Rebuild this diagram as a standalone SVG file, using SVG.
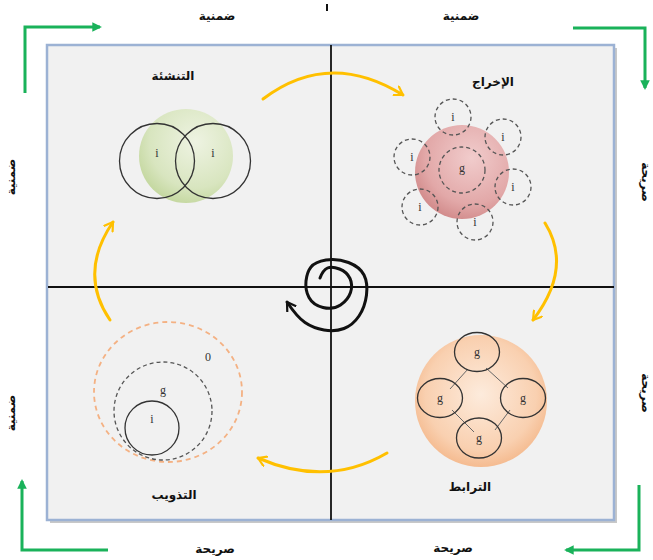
<svg xmlns="http://www.w3.org/2000/svg" width="653" height="560" viewBox="0 0 653 560">
<defs>
<style>
.lbl{font-family:"DejaVu Sans",sans-serif;font-size:12px;font-weight:bold;fill:#111;text-anchor:middle}
.sm{font-family:"Liberation Serif","DejaVu Serif",serif;font-size:12px;fill:#333;text-anchor:middle}
.grn{stroke:#1ab25a;stroke-width:3;fill:none}
.ylw{stroke:#ffc000;stroke-width:3;fill:none;stroke-linecap:round}
.dsh{fill:none;stroke:#555;stroke-width:1.3;stroke-dasharray:4 3}
.sol{fill:none;stroke:#333;stroke-width:1.3}
</style>
<marker id="ga" viewBox="0 0 10 10" refX="8" refY="5" markerWidth="3.2" markerHeight="3.2" orient="auto" markerUnits="strokeWidth">
<path d="M0,0 L10,5 L0,10 Z" fill="#1ab25a"/>
</marker>
<marker id="ya" viewBox="0 0 12 12" refX="9" refY="6" markerWidth="4" markerHeight="4" orient="auto" markerUnits="strokeWidth">
<path d="M1,1 L9,6 L1,11" fill="none" stroke="#ffc000" stroke-width="2.2" stroke-linecap="round" stroke-linejoin="round"/>
</marker>
<marker id="ka" viewBox="0 0 12 12" refX="9" refY="6" markerWidth="4" markerHeight="4" orient="auto" markerUnits="strokeWidth">
<path d="M1,1 L9,6 L1,11" fill="none" stroke="#111" stroke-width="2.2" stroke-linecap="round" stroke-linejoin="round"/>
</marker>
<radialGradient id="gG" cx="0.6" cy="0.35" r="0.7">
<stop offset="0" stop-color="#eef3e2"/>
<stop offset="0.7" stop-color="#d8e5bf"/>
<stop offset="1" stop-color="#c2d69c"/>
</radialGradient>
<radialGradient id="gP" cx="0.6" cy="0.35" r="0.7">
<stop offset="0" stop-color="#f1cccc"/>
<stop offset="0.7" stop-color="#e2a8a8"/>
<stop offset="1" stop-color="#d08888"/>
</radialGradient>
<radialGradient id="gO" cx="0.5" cy="0.45" r="0.6">
<stop offset="0" stop-color="#fdebdc"/>
<stop offset="0.7" stop-color="#f9d0b0"/>
<stop offset="1" stop-color="#f3b384"/>
</radialGradient>
</defs>

<g id="frame">
<rect x="50" y="48" width="567" height="475" fill="#c8c8c8"/>
<rect x="47" y="45" width="567" height="475" fill="#f1f1f1" stroke="#9cb2d4" stroke-width="2.5"/>
<line x1="331" y1="45" x2="331" y2="520" stroke="#111" stroke-width="1.8"/>
<line x1="48" y1="287" x2="614" y2="287" stroke="#111" stroke-width="1.8"/>
<line x1="327" y1="4" x2="327" y2="11" stroke="#111" stroke-width="2"/>
</g>

<g id="connectors">
<path class="grn" d="M25,93 V27 H100" marker-end="url(#ga)"/>
<path class="grn" d="M573,28 H645 V88" marker-end="url(#ga)"/>
<path class="grn" d="M639,485 V550 H566" marker-end="url(#ga)"/>
<path class="grn" d="M108,550 H22 V481" marker-end="url(#ga)"/>
<path class="ylw" d="M263,99 Q329,49 403,95" marker-end="url(#ya)"/>
<path class="ylw" d="M545,223 Q573,268 533,320" marker-end="url(#ya)"/>
<path class="ylw" d="M387,453 Q327,488 258,458" marker-end="url(#ya)"/>
<path class="ylw" d="M110,320 Q78,273 113,222" marker-end="url(#ya)"/>
<path d="M320,278 Q323,270 327.5,268 Q332,266 339.5,269 Q347,272 350,278.5 Q353,285 350.5,292.5 Q348,300 340.5,305 Q333,310 323,307.5 Q313,305 309,297.5 Q305,290 306,281 Q307,272 311,267 Q315,262 326,260 Q337,258 348.5,262.5 Q360,267 364,275 Q368,283 366.5,295 Q365,307 359,316 Q353,325 344,328.5 Q335,332 324,330 Q313,328 305,322.5 Q297,317 287,302" fill="none" stroke="#111" stroke-width="3" stroke-linecap="round" marker-end="url(#ka)"/>
</g>

<g id="edge-labels">
<text class="lbl" x="217" y="20">ضمنية</text>
<text class="lbl" x="461" y="20">ضمنية</text>
<text class="lbl" x="215" y="553">صريحة</text>
<text class="lbl" x="453" y="552">صريحة</text>
<text class="lbl" transform="translate(15,177) rotate(-90)">ضمنية</text>
<text class="lbl" transform="translate(15,413) rotate(-90)">ضمنية</text>
<text class="lbl" transform="translate(642,182) rotate(90)">صريحة</text>
<text class="lbl" transform="translate(642,393) rotate(90)">صريحة</text>
</g>

<g id="node-socialization">
<text class="lbl" x="173" y="80">التنشئة</text>
<circle cx="186" cy="156" r="47" fill="url(#gG)"/>
<circle class="sol" cx="157" cy="161" r="37.5" stroke-width="1.6"/>
<circle class="sol" cx="213" cy="161" r="37.5" stroke-width="1.6"/>
<text class="sm" x="157" y="157">i</text>
<text class="sm" x="213" y="157">i</text>
</g>

<g id="node-externalization">
<text class="lbl" x="493" y="86">الإخراج</text>
<circle cx="462" cy="172" r="47" fill="url(#gP)"/>
<circle class="dsh" cx="462" cy="170" r="23"/>
<text class="sm" x="462" y="172">g</text>
<circle class="dsh" cx="453" cy="117" r="18"/>
<text class="sm" x="453" y="121">i</text>
<circle class="dsh" cx="503" cy="137" r="18"/>
<text class="sm" x="503" y="141">i</text>
<circle class="dsh" cx="412" cy="157" r="18"/>
<text class="sm" x="412" y="161">i</text>
<circle class="dsh" cx="513" cy="187" r="18"/>
<text class="sm" x="513" y="191">i</text>
<circle class="dsh" cx="420" cy="207" r="18"/>
<text class="sm" x="420" y="211">i</text>
<circle class="dsh" cx="475" cy="222" r="18"/>
<text class="sm" x="475" y="226">i</text>
</g>

<g id="node-combination">
<text class="lbl" x="470" y="491">الترابط</text>
<circle cx="481" cy="401" r="66" fill="url(#gO)"/>
<g stroke="#666" stroke-width="1">
<line x1="468" y1="369" x2="450" y2="389"/>
<line x1="486" y1="368" x2="508" y2="388"/>
<line x1="452" y1="410" x2="474" y2="432"/>
<line x1="510" y1="410" x2="495" y2="430"/>
</g>
<ellipse class="sol" cx="477" cy="352" rx="22.5" ry="19.5"/>
<ellipse class="sol" cx="440" cy="398" rx="22.5" ry="19.5"/>
<ellipse class="sol" cx="523" cy="398" rx="22.5" ry="19.5"/>
<ellipse class="sol" cx="479" cy="438" rx="22.5" ry="20"/>
<text class="sm" x="477" y="356">g</text>
<text class="sm" x="440" y="402">g</text>
<text class="sm" x="523" y="402">g</text>
<text class="sm" x="479" y="442">g</text>
</g>

<g id="node-internalization">
<text class="lbl" x="174" y="499">التذويب</text>
<ellipse cx="168" cy="392" rx="74" ry="70" fill="none" stroke="#f4b183" stroke-width="1.8" stroke-dasharray="5 4"/>
<circle class="dsh" cx="163" cy="411" r="49"/>
<circle class="sol" cx="152" cy="428" r="27" stroke-width="1.5"/>
<text class="sm" x="208" y="361">0</text>
<text class="sm" x="163" y="394">g</text>
<text class="sm" x="152" y="423">i</text>
</g>
</svg>
